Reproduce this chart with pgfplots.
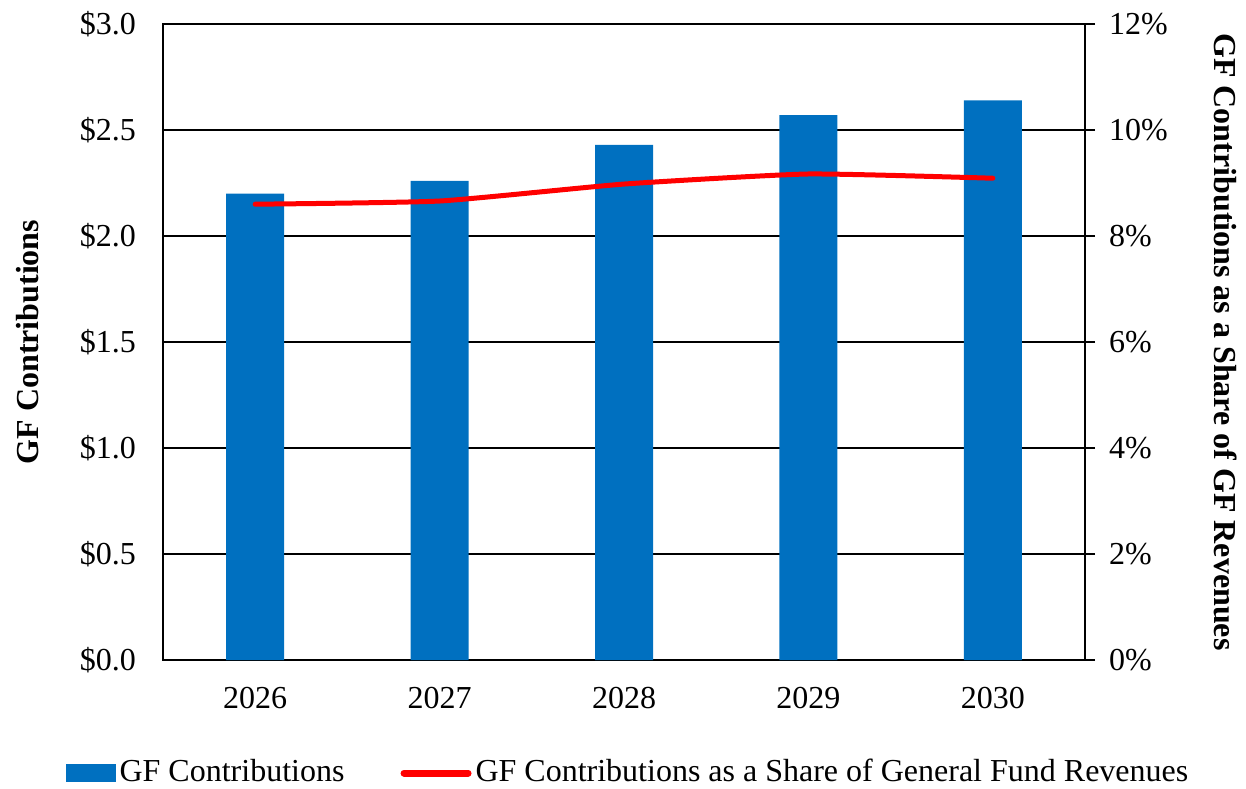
\documentclass[border=0pt]{standalone}
\usepackage{pgfplots}
\pgfplotsset{compat=1.18}
\usepackage{fontspec}
\setmainfont{Liberation Serif}
\definecolor{barblue}{HTML}{0070C0}
\definecolor{linered}{HTML}{FF0000}
\pgfplotsset{
  redleg/.style={legend image code/.code={\draw[linered, line width=3.5pt, line cap=round] (0pt,0pt) -- (32pt,0pt);}},
  blueleg/.style={legend image code/.code={\fill[barblue] (0pt,-4.5pt) rectangle (25pt,4.5pt);}},
}
\begin{document}
\fontsize{16}{19}\selectfont
\begin{tikzpicture}
\useasboundingbox (-81.5pt,-64pt) rectangle (541.5pt,330pt);
\begin{axis}[
  at={(0,0)}, anchor=south west,
  scale only axis, width=461pt, height=318pt,
  xmin=-0.5, xmax=4.5, ymin=0, ymax=3,
  xtick={0,1,2,3,4}, xticklabels={2026,2027,2028,2029,2030},
  ytick={0,0.5,1,1.5,2,2.5,3},
  yticklabels={\$0.0,\$0.5,\$1.0,\$1.5,\$2.0,\$2.5,\$3.0},
  major tick length=0pt,
  ymajorgrids, grid style={black, line width=0.6pt},
  axis line style={black, line width=0.8pt},
  tick label style={font=\fontsize{16}{19}\selectfont},
  xticklabel style={yshift=-8pt},
  yticklabel style={xshift=-8pt},
  ylabel={\textbf{GF Contributions}},
  ylabel style={at={(axis description cs:-0.1464,0.5)}, anchor=center, rotate=0, font=\fontsize{16}{19}\selectfont},
  legend columns=2,
  legend style={at={(axis description cs:0.5054,-0.1777)}, anchor=center, draw=none, fill=none,
    font=\fontsize{16}{19}\selectfont, column sep=0pt,
    /tikz/every even column/.append style={column sep=26pt}},
  legend cell align=left,
]
\addplot[ybar, bar width=29pt, fill=barblue, draw=none, blueleg]
  coordinates {(0,2.20) (1,2.26) (2,2.43) (3,2.57) (4,2.64)};
\addlegendentry{GF Contributions}
\addlegendimage{redleg}
\addlegendentry{GF Contributions as a Share of General Fund Revenues}
\end{axis}
\begin{axis}[
  at={(0,0)}, anchor=south west,
  scale only axis, width=461pt, height=318pt,
  xmin=-0.5, xmax=4.5, ymin=0, ymax=12,
  axis x line=none, axis y line*=right,
  ytick={0,2,4,6,8,10,12},
  yticklabels={0\%,2\%,4\%,6\%,8\%,10\%,12\%},
  tick align=outside, major tick length=5pt,
  tick style={black, line width=0.8pt},
  axis line style={black, line width=0.8pt},
  tick label style={font=\fontsize{16}{19}\selectfont},
  yticklabel style={xshift=1.5pt},
  ylabel={\textbf{GF Contributions as a Share of GF Revenues}},
  ylabel style={at={(axis description cs:1.152,0.5)}, anchor=center, rotate=180, font=\fontsize{16}{19}\selectfont},
]
\addplot[linered, line width=2.5pt, line cap=round, smooth, tension=0.3]
  coordinates {(0,8.60) (1,8.66) (2,8.98) (3,9.17) (4,9.09)};
\end{axis}
\end{tikzpicture}
\end{document}
